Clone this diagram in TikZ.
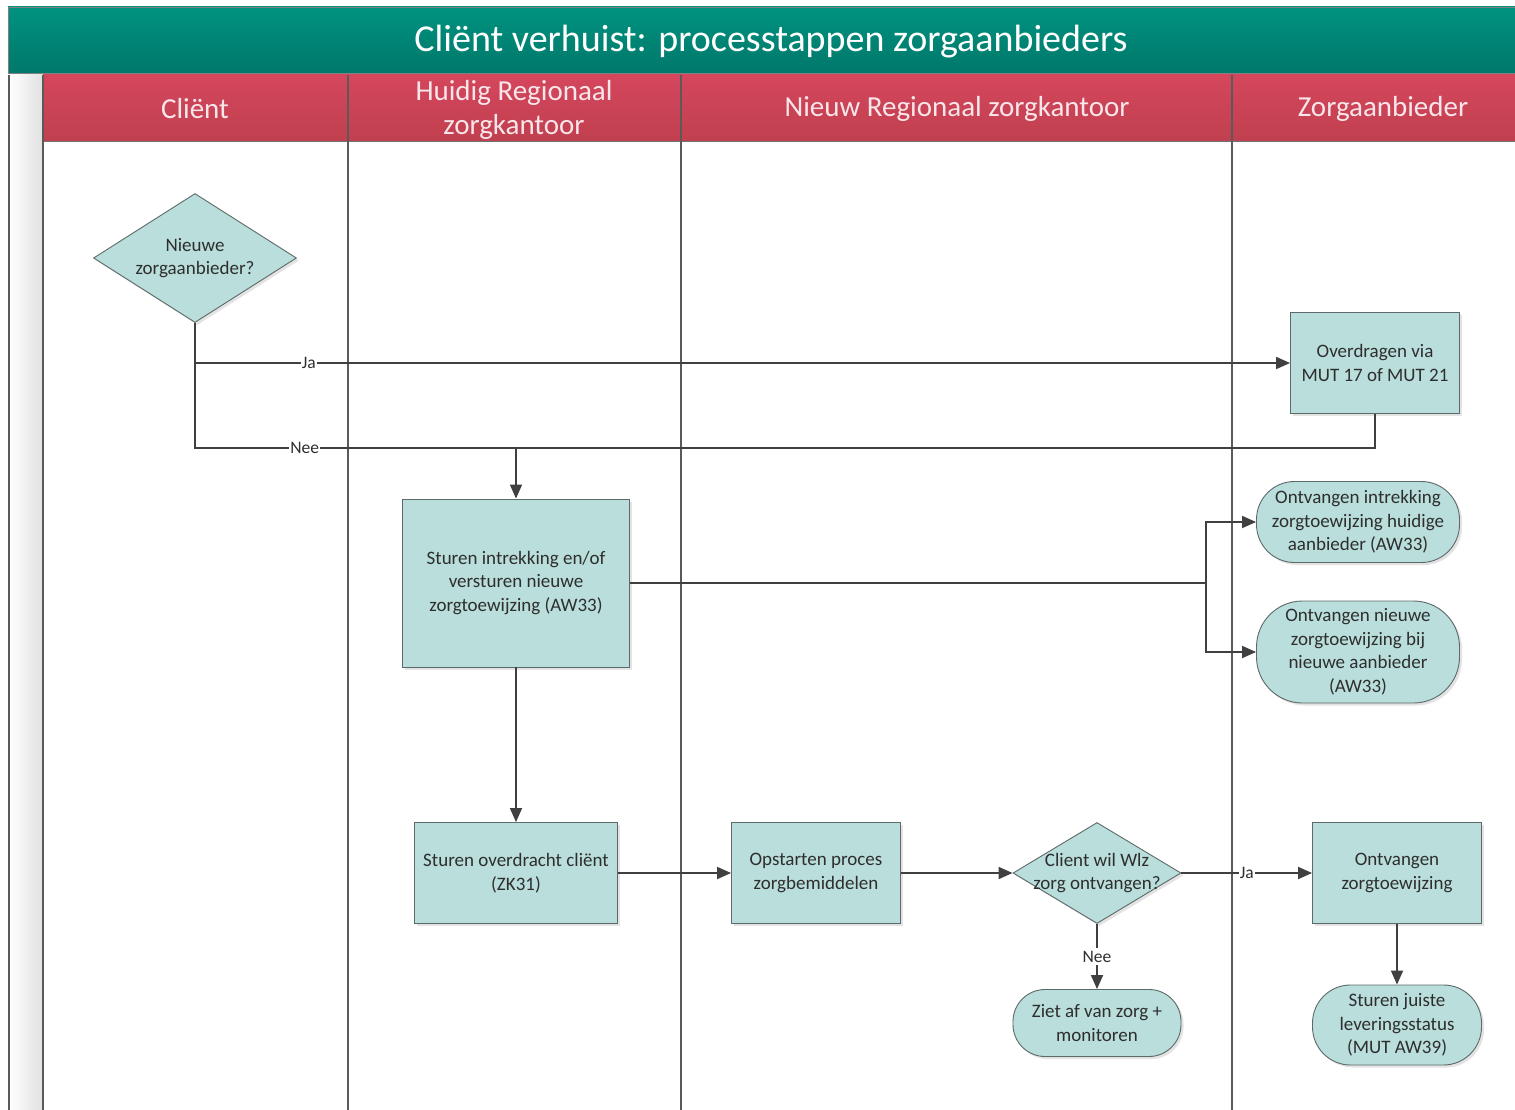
\documentclass[tikz,border=0pt]{standalone}
\usepackage{fontspec}
\setmainfont{Carlito}
\usetikzlibrary{arrows.meta,shapes.geometric,shadows}
\definecolor{tealA}{HTML}{00927F}
\definecolor{tealB}{HTML}{00786B}
\definecolor{redA}{HTML}{D4465C}
\definecolor{redB}{HTML}{C0404F}
\definecolor{nodefill}{HTML}{B9DEDB}
\definecolor{nodeline}{HTML}{5E6A6A}
\definecolor{lineC}{HTML}{404040}
\definecolor{laneC}{HTML}{5A5A5A}
\definecolor{hdrtext}{HTML}{F8E6EA}
\begin{document}
\begin{tikzpicture}[x=1pt,y=-1pt,
  every node/.style={font=\fontsize{19}{23.5}\selectfont, text=black!82, align=center, inner sep=0pt},
  shp/.style={draw=nodeline, fill=nodefill, line width=0.9pt,
     drop shadow={shadow xshift=2.5pt, shadow yshift=-2.5pt, fill=black!18, opacity=0.6}},
  box/.style={shp, rectangle},
  term/.style={shp, rectangle, rounded corners=#1},
  dia/.style={shp, diamond},
  conn/.style={draw=lineC, line width=1.8pt},
  arr/.style={conn, -{Triangle[length=14pt,width=12pt]}},
  lbl/.style={fill=white, font=\fontsize{17.5}{20}\selectfont, inner sep=1pt},
  hdr/.style={text=hdrtext, font=\fontsize{29}{34}\selectfont},
  lane/.style={draw=laneC, line width=1.3pt}
]
\useasboundingbox (0,0) rectangle (1515,1110);
\fill[white] (0,0) rectangle (1515,1110);
% left strip
\shade[left color=white, right color=black!12] (9,75) rectangle (43,1110);
% title band
\shade[top color=tealA, bottom color=tealB] (8,7) rectangle (1515,73);
\draw[black!50, line width=0.8pt] (8,7) rectangle (1515,73);
\node[text=white, font=\fontsize{38}{44}\selectfont] (title) at (771,42) {Cliënt verhuist: processtappen zorgaanbieders};
% header band
\shade[top color=redA, bottom color=redB] (43,75) rectangle (1515,142);
\draw[black!55, line width=1pt] (43,142) -- (1515,142);
% lanes
\draw[lane] (9,75) -- (9,1110);
\draw[lane] (43,75) -- (43,1110);
\draw[lane] (348,75) -- (348,1110);
\draw[lane] (681,75) -- (681,1110);
\draw[lane] (1232,75) -- (1232,1110);
\node[hdr] (h1) at (195,109) {Cliënt};
\node[hdr] (h2) at (514,110) {Huidig Regionaal\\zorgkantoor};
\node[hdr] (h3) at (957,109) {Nieuw Regionaal zorgkantoor};
\node[hdr] (h4) at (1383,109) {Zorgaanbieder};

% nodes
\node[dia, minimum width=203pt, minimum height=129pt, label={center:Nieuwe\\zorgaanbieder?}] (d1) at (195,258) {};
\node[box, minimum width=169pt, minimum height=101pt] (over) at (1375,363) {Overdragen via\\MUT 17 of MUT 21};
\node[box, minimum width=227pt, minimum height=168pt] (stint) at (516,583) {Sturen intrekking en/of\\versturen nieuwe\\zorgtoewijzing (AW33)};
\node[term=38pt, minimum width=203pt, minimum height=81pt] (ontv1) at (1358,522) {Ontvangen intrekking\\zorgtoewijzing huidige\\aanbieder (AW33)};
\node[term=46pt, minimum width=203pt, minimum height=102pt] (ontv2) at (1358,652) {Ontvangen nieuwe\\zorgtoewijzing bij\\nieuwe aanbieder\\(AW33)};
\node[box, minimum width=203pt, minimum height=101pt] (stov) at (516,873) {Sturen overdracht cliënt\\(ZK31)};
\node[box, minimum width=169pt, minimum height=101pt] (opst) at (816,873) {Opstarten proces\\zorgbemiddelen};
\node[dia, minimum width=168pt, minimum height=101pt, label={center:Client wil Wlz\\zorg ontvangen?}] (d2) at (1097,873) {};
\node[term=32pt, minimum width=168pt, minimum height=67pt] (ziet) at (1097,1023) {Ziet af van zorg +\\monitoren};
\node[box, minimum width=169pt, minimum height=101pt] (ozt) at (1397,873) {Ontvangen\\zorgtoewijzing};
\node[term=38pt, minimum width=169pt, minimum height=80pt] (stjl) at (1397,1025) {Sturen juiste\\leveringsstatus\\(MUT AW39)};

% connectors
\coordinate (j) at (516,448);
\coordinate (br) at (1206,583);
\draw[arr] (d1.south) |- node[lbl, pos=0.552] {Ja} (over.west);
\draw[conn] (d1.south) |- node[lbl, pos=0.671] {Nee} (j);
\draw[conn] (over.south) |- (j);
\draw[arr] (j) -- (stint.north);
\draw[conn] (stint.east) -- (br);
\draw[arr] (br) |- (ontv1.west);
\draw[arr] (br) |- (ontv2.west);
\draw[arr] (stint.south) -- (stov.north);
\draw[arr] (stov.east) -- (opst.west);
\draw[arr] (opst.east) -- (d2.west);
\draw[arr] (d2.east) -- node[lbl] {Ja} (ozt.west);
\draw[arr] (d2.south) -- node[lbl, inner sep=3pt] {Nee} (ziet.north);
\draw[arr] (ozt.south) -- (stjl.north);
\end{tikzpicture}
\end{document}
